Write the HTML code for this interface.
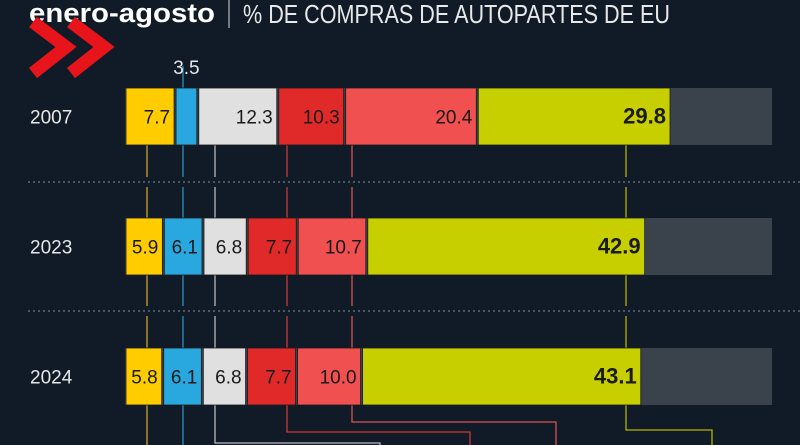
<!DOCTYPE html>
<html><head><meta charset="utf-8"><style>
html,body{margin:0;padding:0;background:#111a27;}
svg{display:block}
</style></head><body>
<svg id="chart" width="800" height="445" viewBox="0 0 800 445">
<rect width="800" height="445" fill="#111a27"/>
<text x="29" y="22" font-family="Liberation Sans, sans-serif" font-weight="bold" font-size="27" textLength="186" lengthAdjust="spacingAndGlyphs" fill="#fff">enero-agosto</text>
<line x1="229" y1="0" x2="229" y2="28" stroke="#bbb" stroke-width="1.2"/>
<text x="243" y="23" font-family="Liberation Sans, sans-serif" font-size="26" textLength="427" lengthAdjust="spacingAndGlyphs" fill="#e8e8e8">% DE COMPRAS DE AUTOPARTES DE EU</text>
<g fill="none" stroke="#e8141b" stroke-width="13" stroke-linejoin="miter">
<polyline points="33,22 66,47 33,73"/>
<polyline points="71,22 104,47 71,73"/>
</g>
<g id="marks"></g>
</svg>
<script>
const years = ["2007","2023","2024"];
const seriesColors = ["#ffcc00","#29a8e0","#e0e0e0","#e02a2a","#f05050","#c8cf00"];
const v2007 = [7.7,3.5,12.3,10.3,20.4,29.8];
const v2023 = [5.9,6.1,6.8,7.7,10.7,42.9];
const v2024 = [5.8,6.1,6.8,7.7,10.0,43.1];
const values = [v2007,v2023,v2024];

const NS="http://www.w3.org/2000/svg";
const g=document.getElementById('marks');
const x0=125, pxPer=6.5, barEnd=772;
const xs=v=>x0+v*pxPer;
const barTop=[88,218,348], barH=57;
const lineX=[147,183,215,287,352,626];
function mk(tag,attrs){const e=document.createElementNS(NS,tag);for(const k in attrs)e.setAttribute(k,attrs[k]);g.appendChild(e);return e;}

[182,311].forEach((y,i)=>{
  const l=mk('line',{x1:28,y1:y,x2:800,y2:y,stroke:'#8a93a0','stroke-width':1,'stroke-dasharray':'2,3'});
  
  
});
const lineCols=["#c9a227","#2b8fc0","#b8b8b8","#c83a3a","#d55555","#b0b500"];
for(let s=0;s<6;s++){
  const segs=[[66,88],[145,177],[187,218],[275,306],[316,348]];
  segs.forEach(([a,b])=>{
    if(s!==1 && a===66) return;
    const l=mk('line',{x1:lineX[s],y1:a,x2:lineX[s],y2:b,stroke:lineCols[s],'stroke-width':1.3});
    
    
  });
}
const bottomPaths=[
 "M147 405 V445","M183 405 V445","M215 405 V443 H380 V445",
 "M287 405 V432 H470 V445","M352 405 V422 H556 V445","M626 405 V430 H712 V445"];
bottomPaths.forEach((d,s)=>{
  const p=mk('path',{d:d,stroke:lineCols[s],'stroke-width':1.3,fill:'none'});
  
  
});
values.forEach((vals,r)=>{
  const y=barTop[r];
  const yl=mk('text',{x:30,y:y+barH/2+7,'font-family':'Liberation Sans, sans-serif','font-size':19,fill:'#e8e8e8'});
  yl.textContent=years[r];
  
  
  const bg=mk('rect',{x:x0,y:y,width:barEnd-x0,height:barH,fill:'#3a424c'});
  
  
  let cum=0;
  vals.forEach((v,s)=>{
    const xa=xs(cum), xb=xs(cum+v); cum+=v;
    const rc=mk('rect',{x:xa+1,y:y,width:Math.max(1,xb-xa-2),height:barH,fill:seriesColors[s],stroke:'#1a1a1a','stroke-width':0.8});
    
    
    const small=(xb-xa)<30;
    const bold=s===5;
    let tx,ty,anchor,col;
    if(small){tx=(xa+xb)/2;ty=y-14;anchor='middle';col='#e8e8e8';}
    else{tx=xb-5;ty=y+barH/2+7;anchor='end';col='#1a1a1a';}
    const t=mk('text',{x:tx,y:ty,'text-anchor':anchor,'font-family':'Liberation Sans, sans-serif','font-size':bold?22:19,'font-weight':bold?'bold':'normal',fill:col});
    t.textContent=v.toFixed(1);
    
    
  });
});
</script>
</body></html>
